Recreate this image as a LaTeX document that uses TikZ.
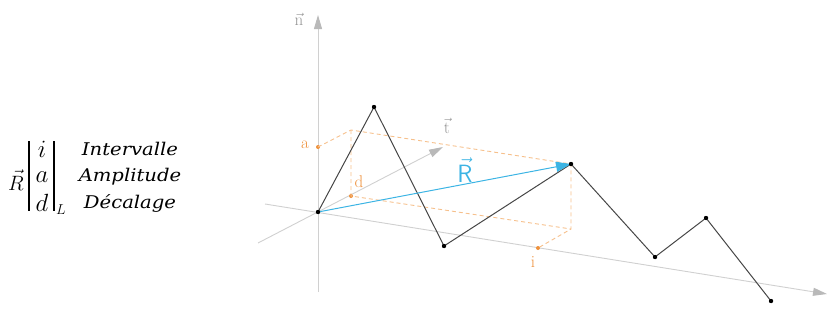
\documentclass[tikz,border=0pt]{standalone}
\usepackage{fontspec}
\newfontfamily\wordfont[FakeStretch=1.12]{DejaVu Serif}
\usetikzlibrary{arrows.meta}
\definecolor{axisgray}{RGB}{208,208,208}
\definecolor{headgray}{RGB}{185,185,185}
\definecolor{labgray}{RGB}{150,150,150}
\definecolor{zig}{RGB}{70,70,70}
\definecolor{orD}{RGB}{238,145,60}
\definecolor{orL}{RGB}{246,192,140}
\definecolor{blueR}{RGB}{60,180,228}
\begin{document}
\begin{tikzpicture}[x=1pt,y=-1pt,
  axis/.style={draw=axisgray,line width=0.9pt,-{Triangle[length=14pt,width=8pt,fill=headgray,color=headgray]}},
  zigline/.style={draw=zig,line width=1pt},
  dot/.style={circle,fill=black,inner sep=0pt,minimum size=4.2pt},
  odot/.style={circle,fill=orD,inner sep=0pt,minimum size=4pt},
  oline/.style={draw=orL,line width=0.9pt,dash pattern=on 4pt off 3pt},
  olab/.style={text=orD,font=\fontsize{17}{19}\selectfont},
  glab/.style={text=labgray,font=\fontsize{17}{19}\selectfont},
  formula/.style={font=\fontsize{24}{27}\selectfont},
  word/.style={font=\fontsize{17.5}{20}\selectfont\wordfont\itshape}]
\useasboundingbox (0,0) rectangle (834,327);
% axes
\coordinate (nbot) at (318,292);
\coordinate (ntip) at (318,15);
\coordinate (tbot) at (258,243);
\coordinate (ttip) at (443,147);
\coordinate (lbot) at (265,204);
\coordinate (ltip) at (827,294);
\draw[axis] (nbot) -- (ntip);
\draw[axis] (tbot) -- (ttip);
\draw[axis] (lbot) -- (ltip);
\node[glab] (nlab) at (299,19) {$\vec{\mathrm{n}}$};
\node[glab] (tlab) at (447,126) {$\vec{\mathrm{t}}$};
% decomposition box
\node[odot] (a) at (318,147) {};
\node[odot] (d) at (351,196) {};
\node[odot] (i) at (538,248) {};
\coordinate (c) at (351,130);
\coordinate (q) at (571,229);
\node[dot] (p0) at (318,212) {};
\node[dot] (p1) at (374,107) {};
\node[dot] (p2) at (444,246) {};
\node[dot] (p3) at (571,164) {};
\node[dot] (p4) at (655,257) {};
\node[dot] (p5) at (706,218) {};
\node[dot] (p6) at (771,301) {};
\draw[oline] (a.center) -- (c) -- (p3.center) -- (q) -- (i.center);
\draw[oline] (c) -- (d.center) -- (q);
\node[olab] (alab) at (305,145) {a};
\node[olab] (dlab) at (359,182) {d};
\node[olab] (ilab) at (533,262) {i};
% zigzag
\draw[zigline] (p0.center) -- (p1.center) -- (p2.center) -- (p3.center) -- (p4.center) -- (p5.center) -- (p6.center);
% resultant
\draw[draw=blueR,line width=1pt,-{Triangle[length=15pt,width=10pt,fill=blueR,color=blueR]}] (p0.center) -- (p3.center);
\node[text=blueR,font=\fontsize{25}{28}\selectfont] (rlab) at (465,170) {$\vec{\mathsf{R}}$};
\foreach \n in {p0,p1,p2,p3,p4,p5,p6}{\node[dot] at (\n) {};}
% formula
\node[font=\fontsize{21}{24}\selectfont,inner sep=0pt] (rv) at (16,180) {$\vec{R}$};
\draw[line width=1.5pt] (29,141) -- (29,211);
\draw[line width=1.5pt] (54,141) -- (54,211);
\node[formula] (fi) at (42,149) {$i$};
\node[formula] (fa) at (42,177) {$a$};
\node[formula] (fd) at (42,203) {$d$};
\node[font=\fontsize{14}{16}\selectfont] (fl) at (61,210) {$L$};
\node[word] (w1) at (130,149) {Intervalle};
\node[word] (w2) at (130,177) {Amplitude};
\node[word] (w3) at (130,203) {Décalage};
\end{tikzpicture}
\end{document}
